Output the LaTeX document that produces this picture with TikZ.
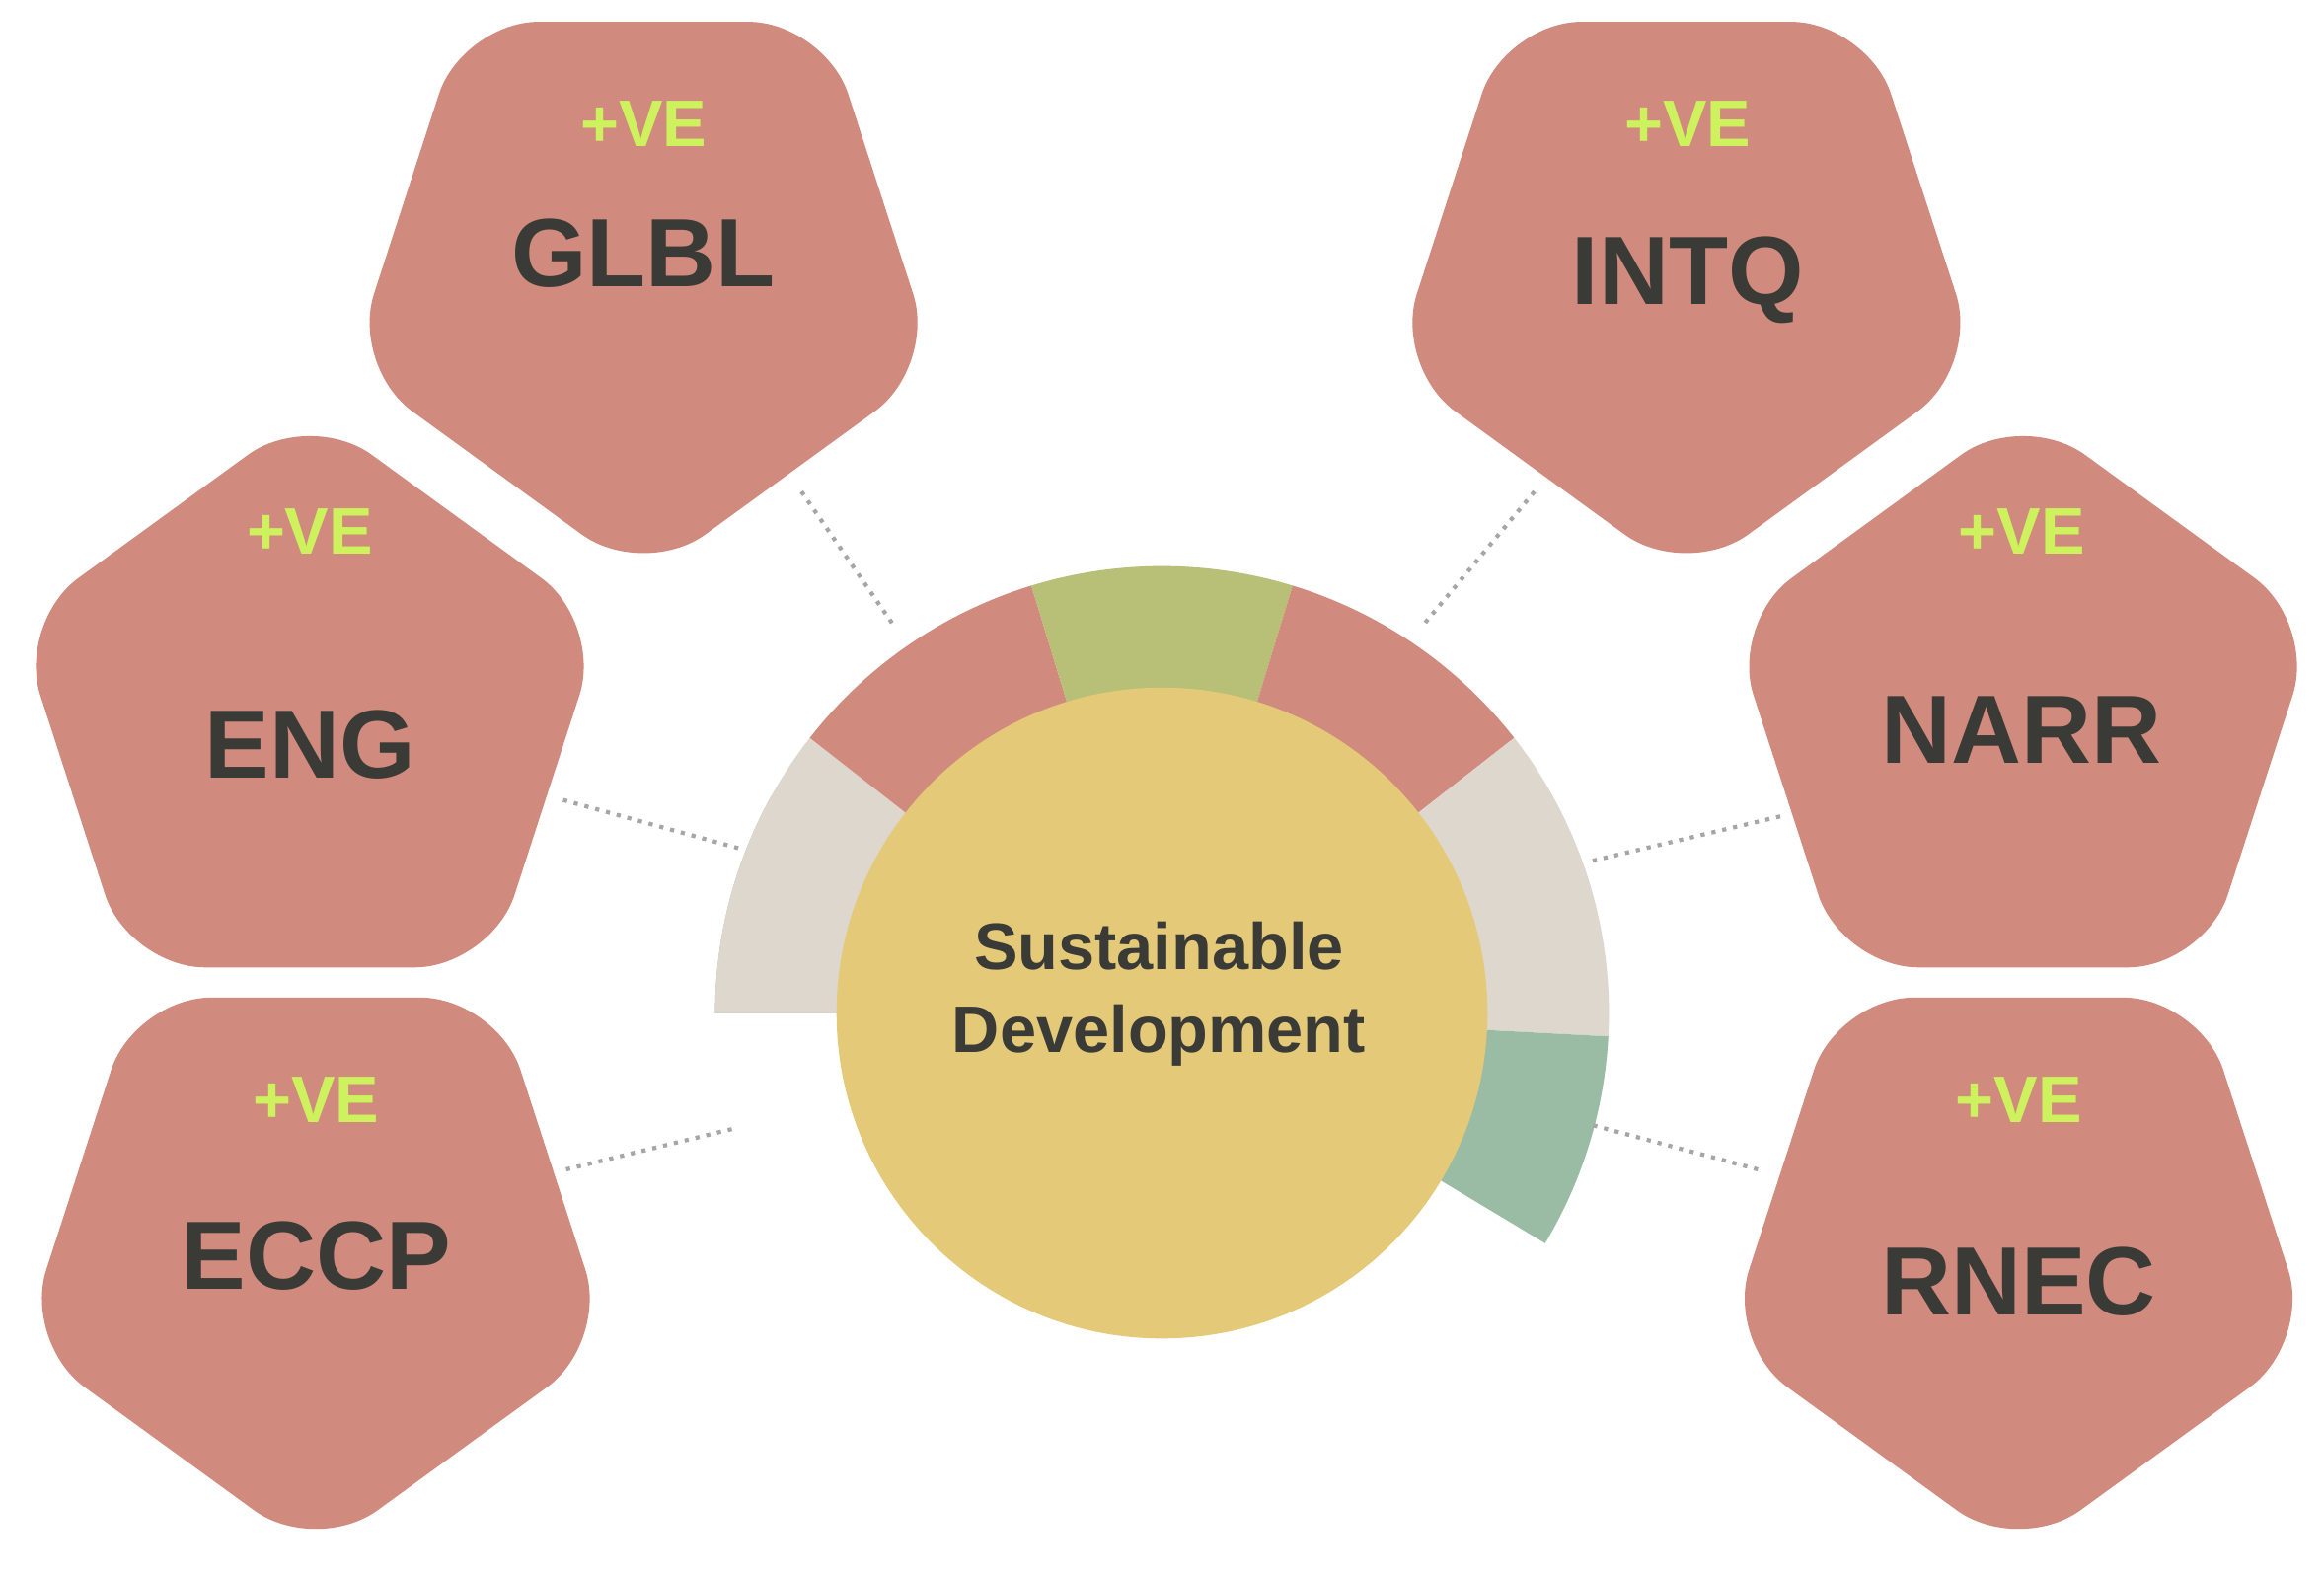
\documentclass[tikz,border=0pt]{standalone}
\usepackage{fontspec}
\setmainfont{Liberation Sans}
\usetikzlibrary{shapes.geometric,calc}
\definecolor{pent}{HTML}{D08A7E}
\definecolor{redseg}{HTML}{D18B7E}
\definecolor{olive}{HTML}{B8BF76}
\definecolor{beige}{HTML}{DDD7CE}
\definecolor{sage}{HTML}{9BBCA4}
\definecolor{core}{HTML}{E4CA78}
\definecolor{plus}{HTML}{CDF25E}
\definecolor{ink}{HTML}{3A3A36}
\tikzset{
 pentbox/.style={regular polygon,regular polygon sides=5,fill=pent,inner sep=0pt,minimum size=6.25cm,rounded corners=22pt},
 pdown/.style={pentbox,shape border rotate=180},
 pup/.style={pentbox},
 plustxt/.style={text=plus,font=\bfseries\fontsize{19}{21}\selectfont},
 lab/.style={text=ink,font=\bfseries\fontsize{28}{30}\selectfont},
 link/.style={draw=gray!70,dotted,line width=1.2pt}
}
\begin{document}
\begin{tikzpicture}[x=0.0151cm,y=-0.0151cm]
\useasboundingbox[fill=white] (0,0) rectangle (1560,1056);
\def\ri{215}\def\ro{300}
\foreach \c/\a/\b in {sage/180/209, beige/-142/-180, redseg/-107/-142, olive/-73/-107, redseg/-38/-73, beige/3/-38, sage/31/3}{
 \fill[\c] ($(780,680)+(\a:\ro)$) arc[start angle=\a,end angle=\b,radius=\ro] -- ($(780,680)+(\b:\ri)$) arc[start angle=\b,end angle=\a,radius=\ri] -- cycle;}
\node[circle,fill=core,minimum size=6.6cm,inner sep=0pt] (core) at (780,680) {};
\node[text=ink,font=\bfseries\fontsize{19}{24}\selectfont,align=center] (ct) at (778,667) {Sustainable\\Development};
\node[pdown] (p1) at (432,182) {};
\node[pup] (p2) at (208,482) {};
\node[pdown] (p3) at (212,837) {};
\node[pdown] (p4) at (1132,182) {};
\node[pup] (p5) at (1358,482) {};
\node[pdown] (p6) at (1355,837) {};
\node[plustxt] (v1) at (432,83) {+VE}; \node[lab] (l1) at (432,170) {GLBL};
\node[plustxt] (v2) at (208,357) {+VE}; \node[lab] (l2) at (208,500) {ENG};
\node[plustxt] (v3) at (212,738) {+VE}; \node[lab] (l3) at (212,843) {ECCP};
\node[plustxt] (v4) at (1133,83) {+VE}; \node[lab] (l4) at (1133,188) {INTQ};
\node[plustxt] (v5) at (1357,357) {+VE}; \node[lab] (l5) at (1357,490) {NARR};
\node[plustxt] (v6) at (1355,738) {+VE}; \node[lab] (l6) at (1355,860) {RNEC};
\coordinate (a1) at (538,330); \coordinate (b1) at (600,420);
\coordinate (a2) at (378,537); \coordinate (b2) at (498,570);
\coordinate (a3) at (380,785); \coordinate (b3) at (495,757);
\coordinate (a4) at (1030,330); \coordinate (b4) at (955,420);
\coordinate (a5) at (1195,548); \coordinate (b5) at (1068,578);
\coordinate (a6) at (1180,785); \coordinate (b6) at (1068,755);
\foreach \i in {1,...,6}{\draw[link] (a\i) -- (b\i);}
\end{tikzpicture}
\end{document}
